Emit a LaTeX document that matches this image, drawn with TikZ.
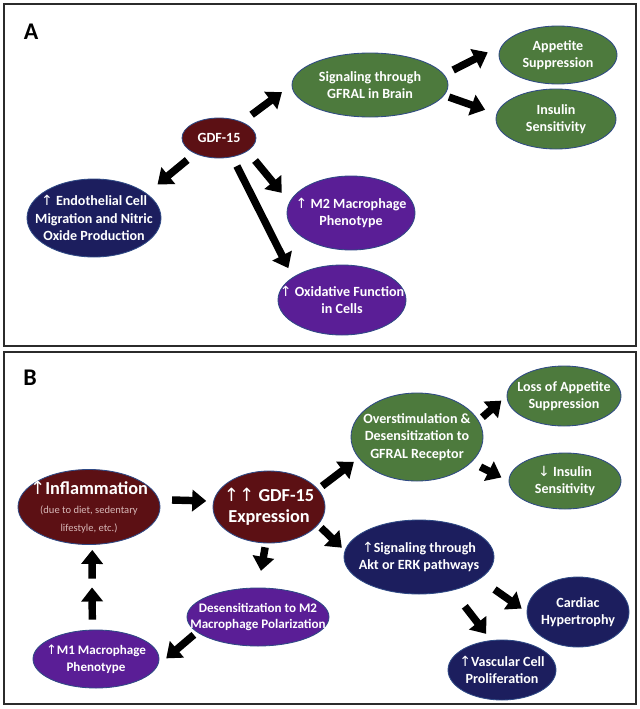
\documentclass[tikz,border=0pt]{standalone}
\usepackage{fontspec}
\setmainfont{Carlito}
\newfontfamily\arrowfont{DejaVu Sans}
\usepackage{xcolor}
\usepackage{tikz}
\usetikzlibrary{arrows.meta,shapes.geometric}

\definecolor{gdfred}{HTML}{5C1014}
\definecolor{gfralgreen}{HTML}{4D7A3D}
\definecolor{vesselnavy}{HTML}{1C1E5E}
\definecolor{macpurple}{HTML}{5A1E96}
\definecolor{edgeblue}{HTML}{2F4A85}
\definecolor{framegray}{HTML}{2B2B2B}
\definecolor{notepink}{HTML}{D8B9B9}

\newcommand{\uparr}{{\arrowfont\mdseries ↑}}
\newcommand{\downarr}{{\arrowfont\mdseries ↓}}

\tikzset{
  bubble/.style={ellipse, draw=edgeblue, line width=0.6pt, text=white,
                 font=\bfseries\fontsize{10}{12.5}\selectfont, align=center, inner sep=-20pt},
  dims/.style 2 args={minimum width=#1*0.25mm, minimum height=#2*0.25mm},
  fat/.style={-{Triangle[length=10pt,width=15pt]}, line width=5.3pt, black},
  panel/.style={draw=framegray, line width=1.4pt},
  tag/.style={font=\bfseries\fontsize{17}{20}\selectfont}
}

\begin{document}
\begin{tikzpicture}[x=0.25mm, y=-0.25mm]
\useasboundingbox (0,0) rectangle (640,709);

% panel A
\draw[panel] (4,4) rectangle (636,346);
\node[tag] (taga) at (31,32) {A};

\node[bubble, dims={74}{40}, fill=gdfred] (gdf) at (219,138) {GDF-15};
\node[bubble, dims={156}{64}, fill=gfralgreen] (sig) at (370,85) {Signaling through\\GFRAL in Brain};
\node[bubble, dims={118}{58}, fill=gfralgreen] (app) at (558,55) {Appetite\\Suppression};
\node[bubble, dims={120}{60}, fill=gfralgreen] (ins) at (556,119) {Insulin\\Sensitivity};
\node[bubble, dims={134}{78}, fill=vesselnavy] (endo) at (94,218)
  {\uparr{} Endothelial Cell\\Migration and Nitric\\Oxide Production};
\node[bubble, dims={128}{74}, fill=macpurple] (mtwo) at (351,213) {\uparr{} M2 Macrophage\\Phenotype};
\node[bubble, dims={128}{70}, fill=macpurple] (oxi) at (342,300) {\uparr{} Oxidative Function\\in Cells};

\draw[fat, shorten <=3mm, shorten >=3mm] (gdf.35) -- (sig.180);
\draw[fat, shorten <=2.5mm, shorten >=4mm] (sig.8) -- (app.170);
\draw[fat, shorten <=1.25mm, shorten >=3mm] (sig.-8) -- (ins.175);
\draw[fat, shorten <=2.5mm, shorten >=3.5mm] (gdf.213) -- (endo.25);
\draw[fat, shorten <=3mm, shorten >=3mm] (gdf.-25) -- (mtwo.170);
\draw[fat, shorten <=2.5mm, shorten >=2.5mm] (gdf.-55) -- (oxi.155);

% panel B
\draw[panel] (4,352) rectangle (636,704);
\node[tag] (tagb) at (30,378) {B};

\node[bubble, dims={142}{75}, fill=gdfred] (infl) at (89,507)
  {{\fontsize{13}{15}\selectfont\uparr Inflammation}\\[1pt]
   {\mdseries\fontsize{7.5}{10.5}\selectfont\color{notepink}(due to diet, sedentary}\\
   {\mdseries\fontsize{7.5}{10.5}\selectfont\color{notepink}lifestyle, etc.)}};
\node[bubble, dims={112}{72}, fill=gdfred, font=\bfseries\fontsize{13}{15}\selectfont] (gdfx) at (269,507)
  {\uparr\uparr{} GDF-15\\Expression};
\node[bubble, dims={132}{88}, fill=gfralgreen] (over) at (417,437)
  {Overstimulation \&\\Desensitization to\\GFRAL Receptor};
\node[bubble, dims={114}{60}, fill=gfralgreen] (loss) at (564,396) {Loss of Appetite\\Suppression};
\node[bubble, dims={112}{56}, fill=gfralgreen] (insd) at (565,481) {\downarr{} Insulin\\Sensitivity};
\node[bubble, dims={150}{74}, fill=vesselnavy] (sigb) at (419,557) {\uparr Signaling through\\Akt or ERK pathways};
\node[bubble, dims={102}{70}, fill=vesselnavy] (card) at (578,612) {Cardiac\\Hypertrophy};
\node[bubble, dims={108}{60}, fill=vesselnavy] (vasc) at (502,670) {\uparr Vascular Cell\\Proliferation};
\node[bubble, dims={142}{58}, fill=macpurple, font=\bfseries\fontsize{9.3}{11.8}\selectfont] (desens) at (258,617)
  {Desensitization to M2\\Macrophage Polarization};
\node[bubble, dims={126}{58}, fill=macpurple, font=\bfseries\fontsize{9.3}{11.8}\selectfont] (mone) at (96,659)
  {\uparr M1 Macrophage\\Phenotype};
\coordinate (mid) at (92,583);

\draw[fat, shorten <=3.25mm, shorten >=1.75mm] (infl.6) -- (gdfx.174);
\draw[fat, shorten <=1.25mm, shorten >=1.5mm] (gdfx.20) -- (over.200);
\draw[fat, shorten <=1.25mm, shorten >=1.75mm] (over.15) -- (loss.180);
\draw[fat, shorten <=2.5mm, shorten >=2mm] (over.-25) -- (insd.180);
\draw[fat, shorten <=1mm, shorten >=1mm] (gdfx.-20) -- (sigb.175);
\draw[fat, shorten <=4.5mm, shorten >=1.5mm] (sigb.-20) -- (card.180);
\draw[fat, shorten <=5mm, shorten >=2mm] (sigb.-45) -- (vasc.110);
\draw[fat, shorten <=1mm, shorten >=4.25mm] (gdfx.-95) -- (desens.90);
\draw[fat, shorten <=1mm, shorten >=2.75mm] (desens.194) -- (mone.-6);
\draw[fat, shorten <=2.5mm, shorten >=1.1mm] (mone.97) -- (mid);
\draw[fat, shorten <=1.1mm, shorten >=1.25mm] (mid) -- (infl.-85);
\end{tikzpicture}
\end{document}
